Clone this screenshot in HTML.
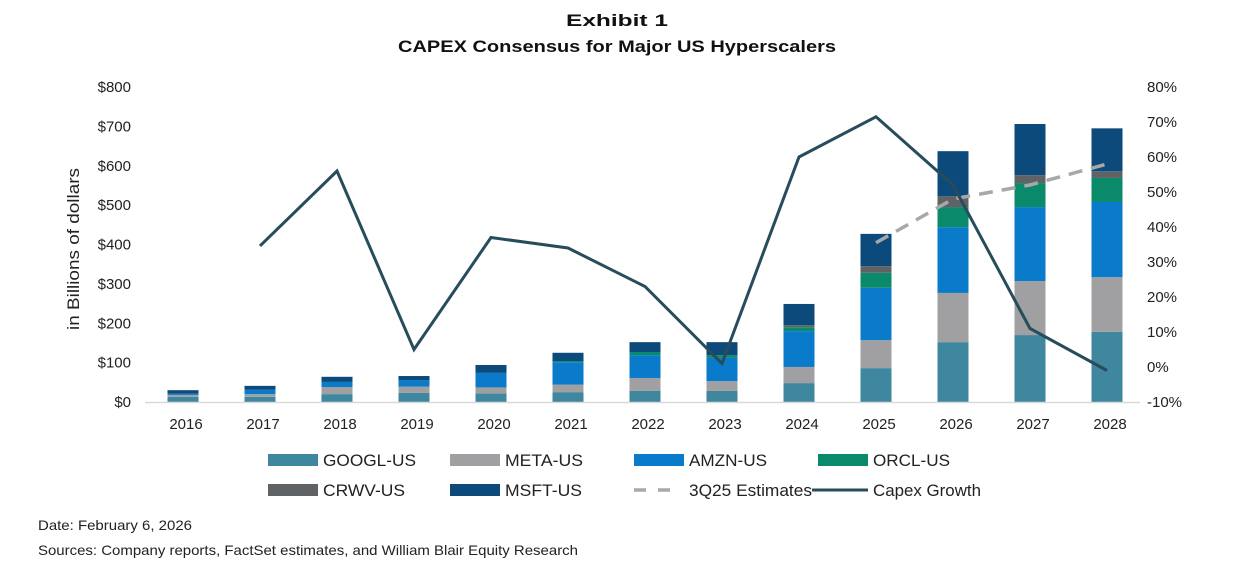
<!DOCTYPE html>
<html><head><meta charset="utf-8"><style>
body{margin:0;background:#fff;}
svg{display:block;font-family:"Liberation Sans",Arial,sans-serif;}
</style></head><body>
<svg id="chart" width="1237" height="575">
<text x="617" y="26" text-anchor="middle" font-size="17" font-weight="bold" fill="#111" textLength="102" lengthAdjust="spacingAndGlyphs">Exhibit 1</text>
<text x="617" y="52" text-anchor="middle" font-size="17" font-weight="bold" fill="#111" textLength="438" lengthAdjust="spacingAndGlyphs">CAPEX Consensus for Major US Hyperscalers</text>
<text transform="translate(79,249) rotate(-90)" text-anchor="middle" font-size="17" fill="#222" textLength="162" lengthAdjust="spacingAndGlyphs">in Billions of dollars</text>
<g id="bars"></g><g id="lines"></g><g id="axes"></g>
<g id="legend"></g>
<text x="38" y="530" font-size="14" fill="#222" textLength="154" lengthAdjust="spacingAndGlyphs">Date: February 6, 2026</text>
<text x="38" y="555" font-size="14" fill="#222" textLength="540" lengthAdjust="spacingAndGlyphs">Sources: Company reports, FactSet estimates, and William Blair Equity Research</text>
</svg>
<script>
const years=["2016","2017","2018","2019","2020","2021","2022","2023","2024","2025","2026","2027","2028"];
const googl=[13,13,20,23,22,25,28,28,48,86,152,170,178];
const meta=[5,7,18,16,15,19,33,25,41,71,125,137,139];
const amzn=[3,11,13,16,37,57,58,59,91,133,167,188,191];
const orcl=[0,0,0,0,0,3,8,7,10,38,51,61,61];
const crwv=[0,0,0,0,0,0,0,0,5,17,28,20,17];
const msft=[9,10,13,11,20,21,25,33,54,82,114,130,109];
const growth=[null,34.6,56,5,37,34,23,1,60,71.5,52,11,-1];
const estimates=[null,null,null,null,null,null,null,null,null,35.5,48,52,58];
const leftTicks=[0,100,200,300,400,500,600,700,800];
const rightTicks=[-10,0,10,20,30,40,50,60,70,80];
const NS="http://www.w3.org/2000/svg";
const x0=183,dx=77,yB=402,yT=87;
function xs(i){return x0+i*dx;}
function yl(v){return yB-(v/800)*(yB-yT);}
function yr(p){return yB-((p+10)/90)*(yB-yT);}
function mk(tag,attrs,parent){const e=document.createElementNS(NS,tag);for(const k in attrs)e.setAttribute(k,attrs[k]);parent.appendChild(e);return e;}
const bars=document.getElementById('bars'),lines=document.getElementById('lines'),axes=document.getElementById('axes'),legend=document.getElementById('legend');
const series=[["googl",googl,"#3f869f"],["meta",meta,"#a0a0a2"],["amzn",amzn,"#0a7acb"],["orcl",orcl,"#0a8a6a"],["crwv",crwv,"#5f6366"],["msft",msft,"#0b4a7a"]];
years.forEach((y,i)=>{let acc=0;series.forEach(s=>{const v=s[1][i];if(v>0){const r=mk('rect',{x:xs(i)-15.5,y:yl(acc+v),width:31,height:yl(acc)-yl(acc+v),fill:s[2]},bars);

}acc+=v;});});
mk('line',{x1:145,x2:1140,y1:yB+0.5,y2:yB+0.5,stroke:'#d9d9d9','stroke-width':1.5},axes);
function path(arr,attrs,name){let d='';arr.forEach((v,i)=>{if(v===null)return;d+=(d?'L':'M')+xs(i)+','+yr(v);});const p=mk('path',Object.assign({d:d,fill:'none'},attrs),lines);

}
path(estimates,{stroke:'#a8a8a8','stroke-width':3.5,'stroke-dasharray':'14,9'},'estimates-line');
path(growth,{stroke:'#274c5c','stroke-width':3,'stroke-linejoin':'miter'},'capex-growth-line');
leftTicks.forEach(v=>{const t=mk('text',{x:131,y:yl(v)+5,'text-anchor':'end','font-size':15,fill:'#222'},axes);t.textContent='$'+v;

});
rightTicks.forEach(v=>{const t=mk('text',{x:1147,y:yr(v)+5,'font-size':15,fill:'#222'},axes);t.textContent=v+'%';

});
years.forEach((y,i)=>{const t=mk('text',{x:xs(i)+3,y:429,'text-anchor':'middle','font-size':15,fill:'#222'},axes);t.textContent=y;

});
const leg=[["GOOGL-US","#3f869f",268,460,"box",323,93],["META-US","#a0a0a2",450,460,"box",505,78],["AMZN-US","#0a7acb",634,460,"box",689,78],["ORCL-US","#0a8a6a",818,460,"box",873,77],["CRWV-US","#5f6366",268,490,"box",323,82],["MSFT-US","#0b4a7a",450,490,"box",505,77],["3Q25 Estimates","#a8a8a8",634,490,"dash",689,123],["Capex Growth","#274c5c",812,490,"line",873,108]];
leg.forEach(l=>{const g=mk('g',{},legend);


if(l[4]==='box')mk('rect',{x:l[2],y:l[3]-6,width:50,height:12,fill:l[1]},g);
else if(l[4]==='dash')mk('line',{x1:l[2],x2:l[2]+48,y1:l[3],y2:l[3],stroke:l[1],'stroke-width':3.5,'stroke-dasharray':'12,12'},g);
else mk('line',{x1:l[2],x2:l[2]+56,y1:l[3],y2:l[3],stroke:l[1],'stroke-width':3},g);
const t=mk('text',{x:l[5],y:l[3]+6,'font-size':17,fill:'#222',textLength:l[6],lengthAdjust:'spacingAndGlyphs'},g);t.textContent=l[0];});
</script>
</body></html>
